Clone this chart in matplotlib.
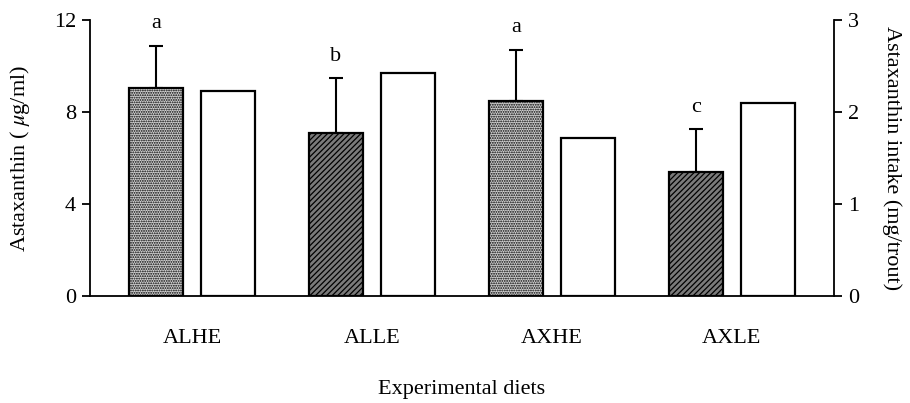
import matplotlib
matplotlib.use("Agg")
import matplotlib.pyplot as plt
import numpy as np

plt.rcParams['font.family'] = ['Liberation Serif', 'DejaVu Serif']
plt.rcParams['mathtext.fontset'] = 'stix'
plt.rcParams['hatch.linewidth'] = 0.9

diets = ["ALHE", "ALLE", "AXHE", "AXLE"]
plasma = [9.04, 7.07, 8.47, 5.37]          # Astaxanthin (ug/ml)
plasma_sd = [1.83, 2.40, 2.23, 1.88]
letters = ["a", "b", "a", "c"]
intake = [2.23, 2.42, 1.72, 2.10]          # Astaxanthin intake (mg/trout)
fills = ["stipple", "hatch", "stipple", "hatch"]

fig = plt.figure(figsize=(9.1, 4.03), dpi=100)
ax = fig.add_axes([90/910, 1-296/403, 744/910, 276/403])
ax2 = ax.twinx()

x = np.arange(len(diets))
w = 0.30
off = 0.20

for i in range(len(diets)):
    if fills[i] == "stipple":
        fc, h = "#d2d2d2", "......."
    else:
        fc, h = "#7a7a7a", "//////"
    ax.bar(x[i] - off, plasma[i], width=w, facecolor=fc, edgecolor="black",
           hatch=h, linewidth=1.6, zorder=3)
    ax.errorbar(x[i] - off, plasma[i], yerr=[[0], [plasma_sd[i]]], fmt="none",
                ecolor="black", elinewidth=1.5, capsize=5, capthick=1.5, zorder=2)
    ax.annotate(letters[i], (x[i] - off, plasma[i] + plasma_sd[i]),
                xytext=(0, 22), textcoords="offset pixels", ha="center",
                va="center", fontsize=16)

ax2.bar(x + off, intake, width=w, facecolor="white", edgecolor="black",
        linewidth=1.6, zorder=3)

ax.set_xlim(-0.567, 3.567)
ax.set_ylim(0, 12)
ax2.set_ylim(0, 3)
ax.set_yticks([0, 4, 8, 12])
ax2.set_yticks([0, 1, 2, 3])
ax.set_xticks(x)
ax.set_xticklabels(diets, fontsize=16)
ax.tick_params(axis="x", length=0, pad=24)
ax.tick_params(axis="y", labelsize=16, length=6, width=1.3, direction="out", pad=4)
ax2.tick_params(axis="y", labelsize=16, length=6, width=1.3, direction="out", pad=4)

for a in (ax, ax2):
    a.spines["top"].set_visible(False)
ax.spines["right"].set_visible(False)
ax2.spines["left"].set_visible(False)
ax2.spines["bottom"].set_visible(False)
for s in ("left", "bottom"):
    ax.spines[s].set_linewidth(1.3)
ax2.spines["right"].set_linewidth(1.3)

ax.set_ylabel("Astaxanthin ( $\\mu$g/ml)", fontsize=16)
ax.yaxis.set_label_coords(-0.078, 0.5)
ax2.set_ylabel("Astaxanthin intake (mg/trout)", fontsize=16, rotation=270,
               va="bottom")
ax2.yaxis.set_label_coords(1.065, 0.5)
ax.set_xlabel("Experimental diets", fontsize=16)
ax.xaxis.set_label_coords(0.5, -0.305)

fig.savefig("out.png", dpi=100)
